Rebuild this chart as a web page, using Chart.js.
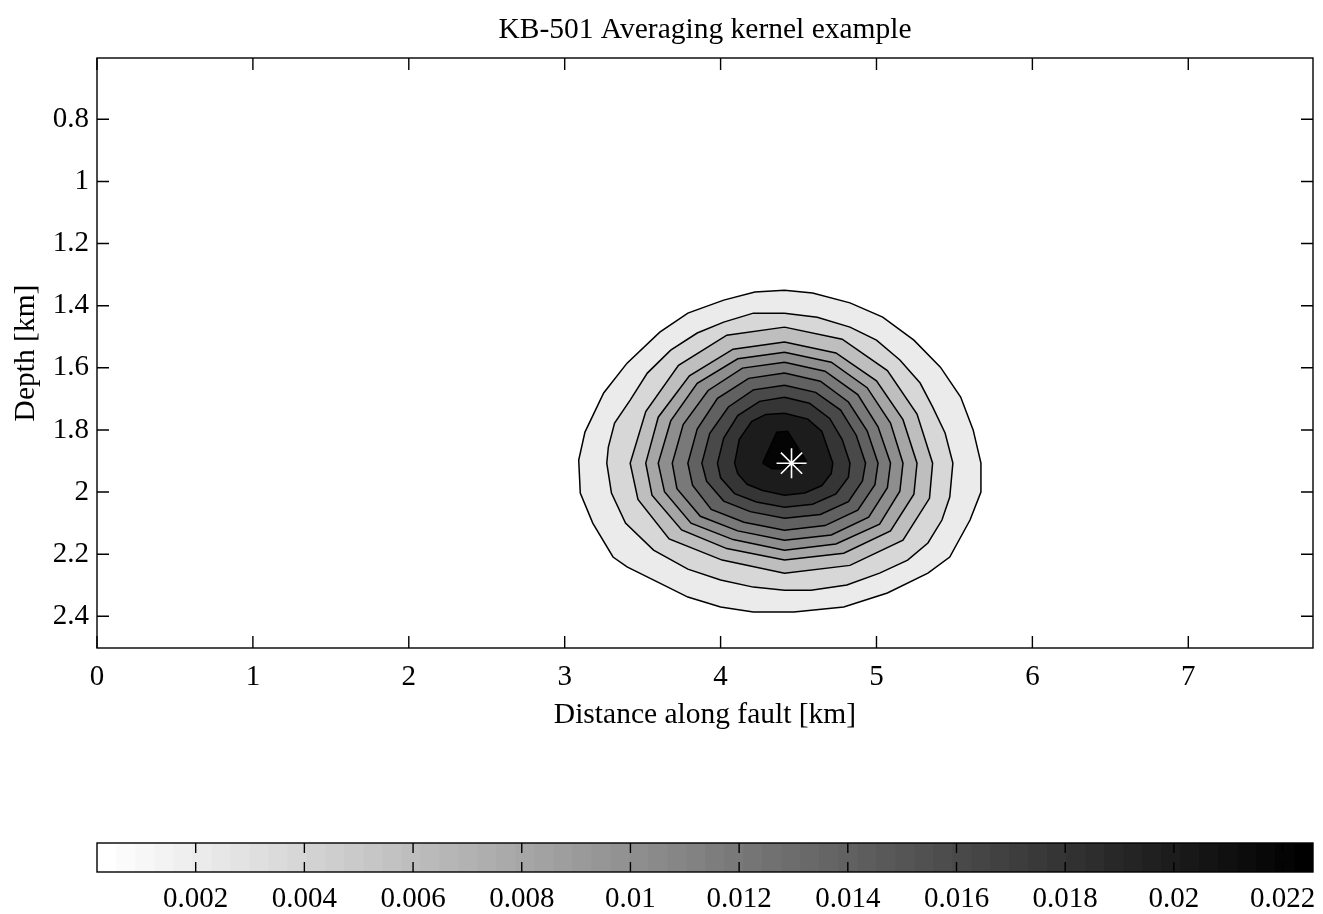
<!DOCTYPE html>
<html>
<head>
<meta charset="utf-8">
<script src="https://cdn.jsdelivr.net/npm/chart.js@4.4.1/dist/chart.umd.min.js"></script>
<style>
  html, body { margin: 0; padding: 0; background: #fff; }
  #main { position: absolute; left: 0; top: 0; }
  #cbar { position: absolute; left: 0; top: 800px; }
</style>
</head>
<body>
<canvas id="main" width="1323" height="740"></canvas>
<canvas id="cbar" width="1323" height="114"></canvas>
<script>
const xTicks = [0, 1, 2, 3, 4, 5, 6, 7];
const depthTicks = [0.8, 1, 1.2, 1.4, 1.6, 1.8, 2, 2.2, 2.4];
const colorTicks = [0.002, 0.004, 0.006, 0.008, 0.01, 0.012, 0.014, 0.016, 0.018, 0.02, 0.022];
const levels = [0.002, 0.004, 0.006, 0.008, 0.01, 0.012, 0.014, 0.016, 0.018, 0.02, 0.022];
const colorLimits = [0.000184, 0.02256];
const target = [4.455, 1.907];

// contour outlines, [distance km, depth km]
const contour002 = [[4.41,1.350],[4.59,1.359],[4.83,1.391],[5.04,1.437],[5.24,1.511],[5.41,1.598],[5.54,1.694],[5.62,1.800],[5.67,1.907],[5.67,2.000],[5.60,2.090],[5.47,2.209],[5.33,2.261],[5.07,2.325],[4.79,2.370],[4.47,2.386],[4.21,2.386],[4.00,2.370],[3.79,2.338],[3.61,2.293],[3.40,2.241],[3.31,2.209],[3.18,2.100],[3.10,2.003],[3.09,1.897],[3.13,1.807],[3.25,1.681],[3.40,1.585],[3.61,1.485],[3.79,1.424],[4.02,1.382],[4.22,1.356]];
const contour004 = [[4.41,1.424],[4.62,1.437],[4.83,1.469],[5.00,1.511],[5.15,1.575],[5.28,1.649],[5.36,1.726],[5.44,1.810],[5.49,1.907],[5.47,2.016],[5.42,2.090],[5.33,2.164],[5.20,2.219],[5.02,2.261],[4.81,2.299],[4.58,2.316],[4.41,2.316],[4.21,2.306],[4.00,2.283],[3.79,2.248],[3.57,2.187],[3.39,2.100],[3.30,2.003],[3.27,1.907],[3.28,1.855],[3.32,1.778],[3.42,1.704],[3.53,1.617],[3.68,1.543],[3.85,1.488],[4.02,1.453],[4.21,1.424]];
const contour006 = [[4.41,1.469],[4.78,1.508],[5.07,1.609],[5.26,1.749],[5.36,1.907],[5.34,2.020],[5.17,2.155],[4.83,2.236],[4.41,2.261],[4.01,2.219],[3.67,2.151],[3.47,2.024],[3.42,1.907],[3.52,1.741],[3.73,1.592],[4.04,1.495]];
const contour008 = [[4.41,1.517],[4.74,1.552],[5.00,1.642],[5.17,1.767],[5.26,1.907],[5.24,2.007],[5.09,2.125],[4.79,2.197],[4.41,2.219],[4.04,2.182],[3.75,2.122],[3.56,2.010],[3.52,1.907],[3.60,1.759],[3.80,1.626],[4.08,1.540]];
const contour010 = [[4.41,1.550],[4.71,1.582],[4.94,1.664],[5.09,1.778],[5.17,1.907],[5.15,1.997],[5.02,2.103],[4.74,2.167],[4.41,2.187],[4.08,2.153],[3.81,2.100],[3.64,1.999],[3.60,1.907],[3.68,1.771],[3.85,1.650],[4.11,1.571]];
const contour012 = [[4.41,1.582],[4.67,1.611],[4.88,1.686],[5.01,1.790],[5.09,1.907],[5.07,1.986],[4.95,2.081],[4.71,2.138],[4.41,2.155],[4.11,2.125],[3.87,2.078],[3.72,1.989],[3.69,1.907],[3.76,1.783],[3.92,1.673],[4.14,1.601]];
const contour014 = [[4.41,1.617],[4.64,1.643],[4.82,1.710],[4.94,1.803],[5.01,1.907],[4.99,1.976],[4.88,2.058],[4.67,2.108],[4.41,2.123],[4.15,2.097],[3.94,2.056],[3.82,1.978],[3.79,1.907],[3.85,1.797],[3.98,1.698],[4.18,1.634]];
const contour016 = [[4.41,1.656],[4.61,1.679],[4.77,1.736],[4.87,1.817],[4.93,1.907],[4.91,1.964],[4.82,2.031],[4.64,2.072],[4.41,2.084],[4.19,2.063],[4.02,2.029],[3.91,1.965],[3.88,1.907],[3.93,1.812],[4.05,1.726],[4.21,1.671]];
const contour018 = [[4.41,1.695],[4.57,1.714],[4.70,1.763],[4.78,1.831],[4.83,1.907],[4.82,1.952],[4.74,2.006],[4.59,2.039],[4.41,2.049],[4.23,2.032],[4.09,2.005],[4.00,1.954],[3.98,1.907],[4.02,1.826],[4.11,1.754],[4.25,1.708]];
const contour020 = [[4.41,1.746],[4.56,1.765],[4.65,1.805],[4.68,1.849],[4.72,1.907],[4.71,1.940],[4.65,1.979],[4.54,2.003],[4.41,2.010],[4.27,1.995],[4.17,1.975],[4.11,1.941],[4.09,1.907],[4.12,1.830],[4.20,1.772],[4.29,1.750]];
const contour022 = [[4.27,1.907],[4.36,1.807],[4.43,1.804],[4.55,1.900],[4.47,1.925],[4.33,1.925]];

const contours = [contour002, contour004, contour006, contour008, contour010, contour012,
  contour014, contour016, contour018, contour020, contour022];

Chart.defaults.color = '#000';
Chart.defaults.font.family = "'Liberation Serif', 'Times New Roman', serif";
Chart.defaults.font.size = 29;

// flipped gray colormap, 64 steps like the figure
const nColors = 64;
function grayIndex(v) {
  const i = Math.floor((v - colorLimits[0]) / (colorLimits[1] - colorLimits[0]) * nColors);
  return Math.max(0, Math.min(nColors - 1, i));
}
function grayColor(i) {
  const g = Math.round(255 * (1 - i / (nColors - 1)));
  return 'rgb(' + g + ',' + g + ',' + g + ')';
}

// box + inward ticks
const frame = {
  id: 'frame',
  afterDraw(chart, args, opts) {
    const { ctx, chartArea: a, scales } = chart;
    const len = opts.len;
    ctx.save();
    ctx.strokeStyle = '#000';
    ctx.lineWidth = 1.4;
    ctx.beginPath();
    scales.x.ticks.forEach(t => {
      const px = scales.x.getPixelForValue(t.value);
      ctx.moveTo(px, a.bottom); ctx.lineTo(px, a.bottom - len);
      ctx.moveTo(px, a.top); ctx.lineTo(px, a.top + len);
    });
    if (opts.yTicks) {
      scales.y.ticks.forEach(t => {
        const py = scales.y.getPixelForValue(t.value);
        ctx.moveTo(a.left, py); ctx.lineTo(a.left + len, py);
        ctx.moveTo(a.right, py); ctx.lineTo(a.right - len, py);
      });
    }
    ctx.stroke();
    ctx.strokeRect(a.left, a.top, a.right - a.left, a.bottom - a.top);
    ctx.restore();
  }
};

const noPad = s => { s.paddingLeft = 0; s.paddingRight = 0; s.paddingTop = 0; s.paddingBottom = 0; };

const datasets = contours.map((c, i) => ({
  data: c.concat([c[0]]).map(p => ({ x: p[0], y: p[1] })),
  showLine: true,
  fill: 'shape',
  tension: 0,
  backgroundColor: grayColor(grayIndex(levels[i])),
  borderColor: '#000',
  borderWidth: 1.5,
  pointRadius: 0,
  order: contours.length - i
}));
datasets.push({
  data: [{ x: target[0], y: target[1] }],
  showLine: false,
  pointStyle: 'star',
  pointRadius: 15,
  pointBorderColor: '#fff',
  pointBorderWidth: 1.6,
  order: 0
});

new Chart(document.getElementById('main'), {
  type: 'scatter',
  data: { datasets: datasets },
  options: {
    responsive: false,
    animation: false,
    layout: { autoPadding: false, padding: { left: 0, right: 10, top: 0, bottom: 0 } },
    plugins: {
      legend: { display: false },
      tooltip: { enabled: false },
      frame: { len: 12, yTicks: true }
    },
    scales: {
      x: {
        type: 'linear',
        min: 0,
        max: 7.8,
        afterBuildTicks: s => { s.ticks = xTicks.map(v => ({ value: v })); },
        afterFit: s => { s.height = 92; noPad(s); },
        ticks: { padding: 12, callback: v => String(v), maxRotation: 0 },
        grid: { display: false, drawTicks: false, tickLength: 0 },
        border: { display: false },
        title: { display: true, text: 'Distance along fault [km]', font: { size: 29.5 }, padding: { top: 0, bottom: 7 } }
      },
      // top axis only carries the title, centred over the plot like the figure
      x2: {
        type: 'linear',
        position: 'top',
        min: 0,
        max: 7.8,
        afterFit: s => { s.height = 58; noPad(s); },
        ticks: { display: false },
        grid: { display: false, drawTicks: false, tickLength: 0 },
        border: { display: false },
        title: { display: true, text: 'KB-501 Averaging kernel example', font: { size: 29.5 }, padding: { top: 12.3, bottom: 0 } }
      },
      y: {
        type: 'linear',
        reverse: true,
        min: 0.6026,
        max: 2.502,
        afterBuildTicks: s => { s.ticks = depthTicks.map(v => ({ value: v })); },
        afterFit: s => { s.width = 97; noPad(s); },
        ticks: { padding: 8, callback: v => String(v) },
        grid: { display: false, drawTicks: false, tickLength: 0 },
        border: { display: false },
        title: { display: true, text: 'Depth [km]', font: { size: 29.5 }, padding: { top: 9, bottom: 0 } }
      }
    }
  },
  plugins: [frame]
});

// colorbar
const cbStep = (colorLimits[1] - colorLimits[0]) / nColors;
const cbDatasets = [];
for (let i = 0; i < nColors; i++) {
  const lo = colorLimits[0] + i * cbStep;
  cbDatasets.push({
    data: [[lo, lo + cbStep]],
    backgroundColor: grayColor(i),
    borderWidth: 0,
    barPercentage: 1,
    categoryPercentage: 1,
    grouped: false
  });
}

new Chart(document.getElementById('cbar'), {
  type: 'bar',
  data: { labels: [''], datasets: cbDatasets },
  options: {
    indexAxis: 'y',
    responsive: false,
    animation: false,
    layout: { autoPadding: false, padding: { left: 97, right: 10, top: 43, bottom: 0 } },
    plugins: {
      legend: { display: false },
      tooltip: { enabled: false },
      frame: { len: 10, yTicks: false }
    },
    scales: {
      x: {
        type: 'linear',
        min: colorLimits[0],
        max: colorLimits[1],
        afterBuildTicks: s => { s.ticks = colorTicks.map(v => ({ value: v })); },
        afterFit: s => { s.height = 42; noPad(s); },
        ticks: { padding: 9.5, callback: v => String(v), maxRotation: 0, autoSkip: false },
        grid: { display: false, drawTicks: false, tickLength: 0 },
        border: { display: false }
      },
      y: { display: false }
    }
  },
  plugins: [frame]
});
</script>
</body>
</html>
